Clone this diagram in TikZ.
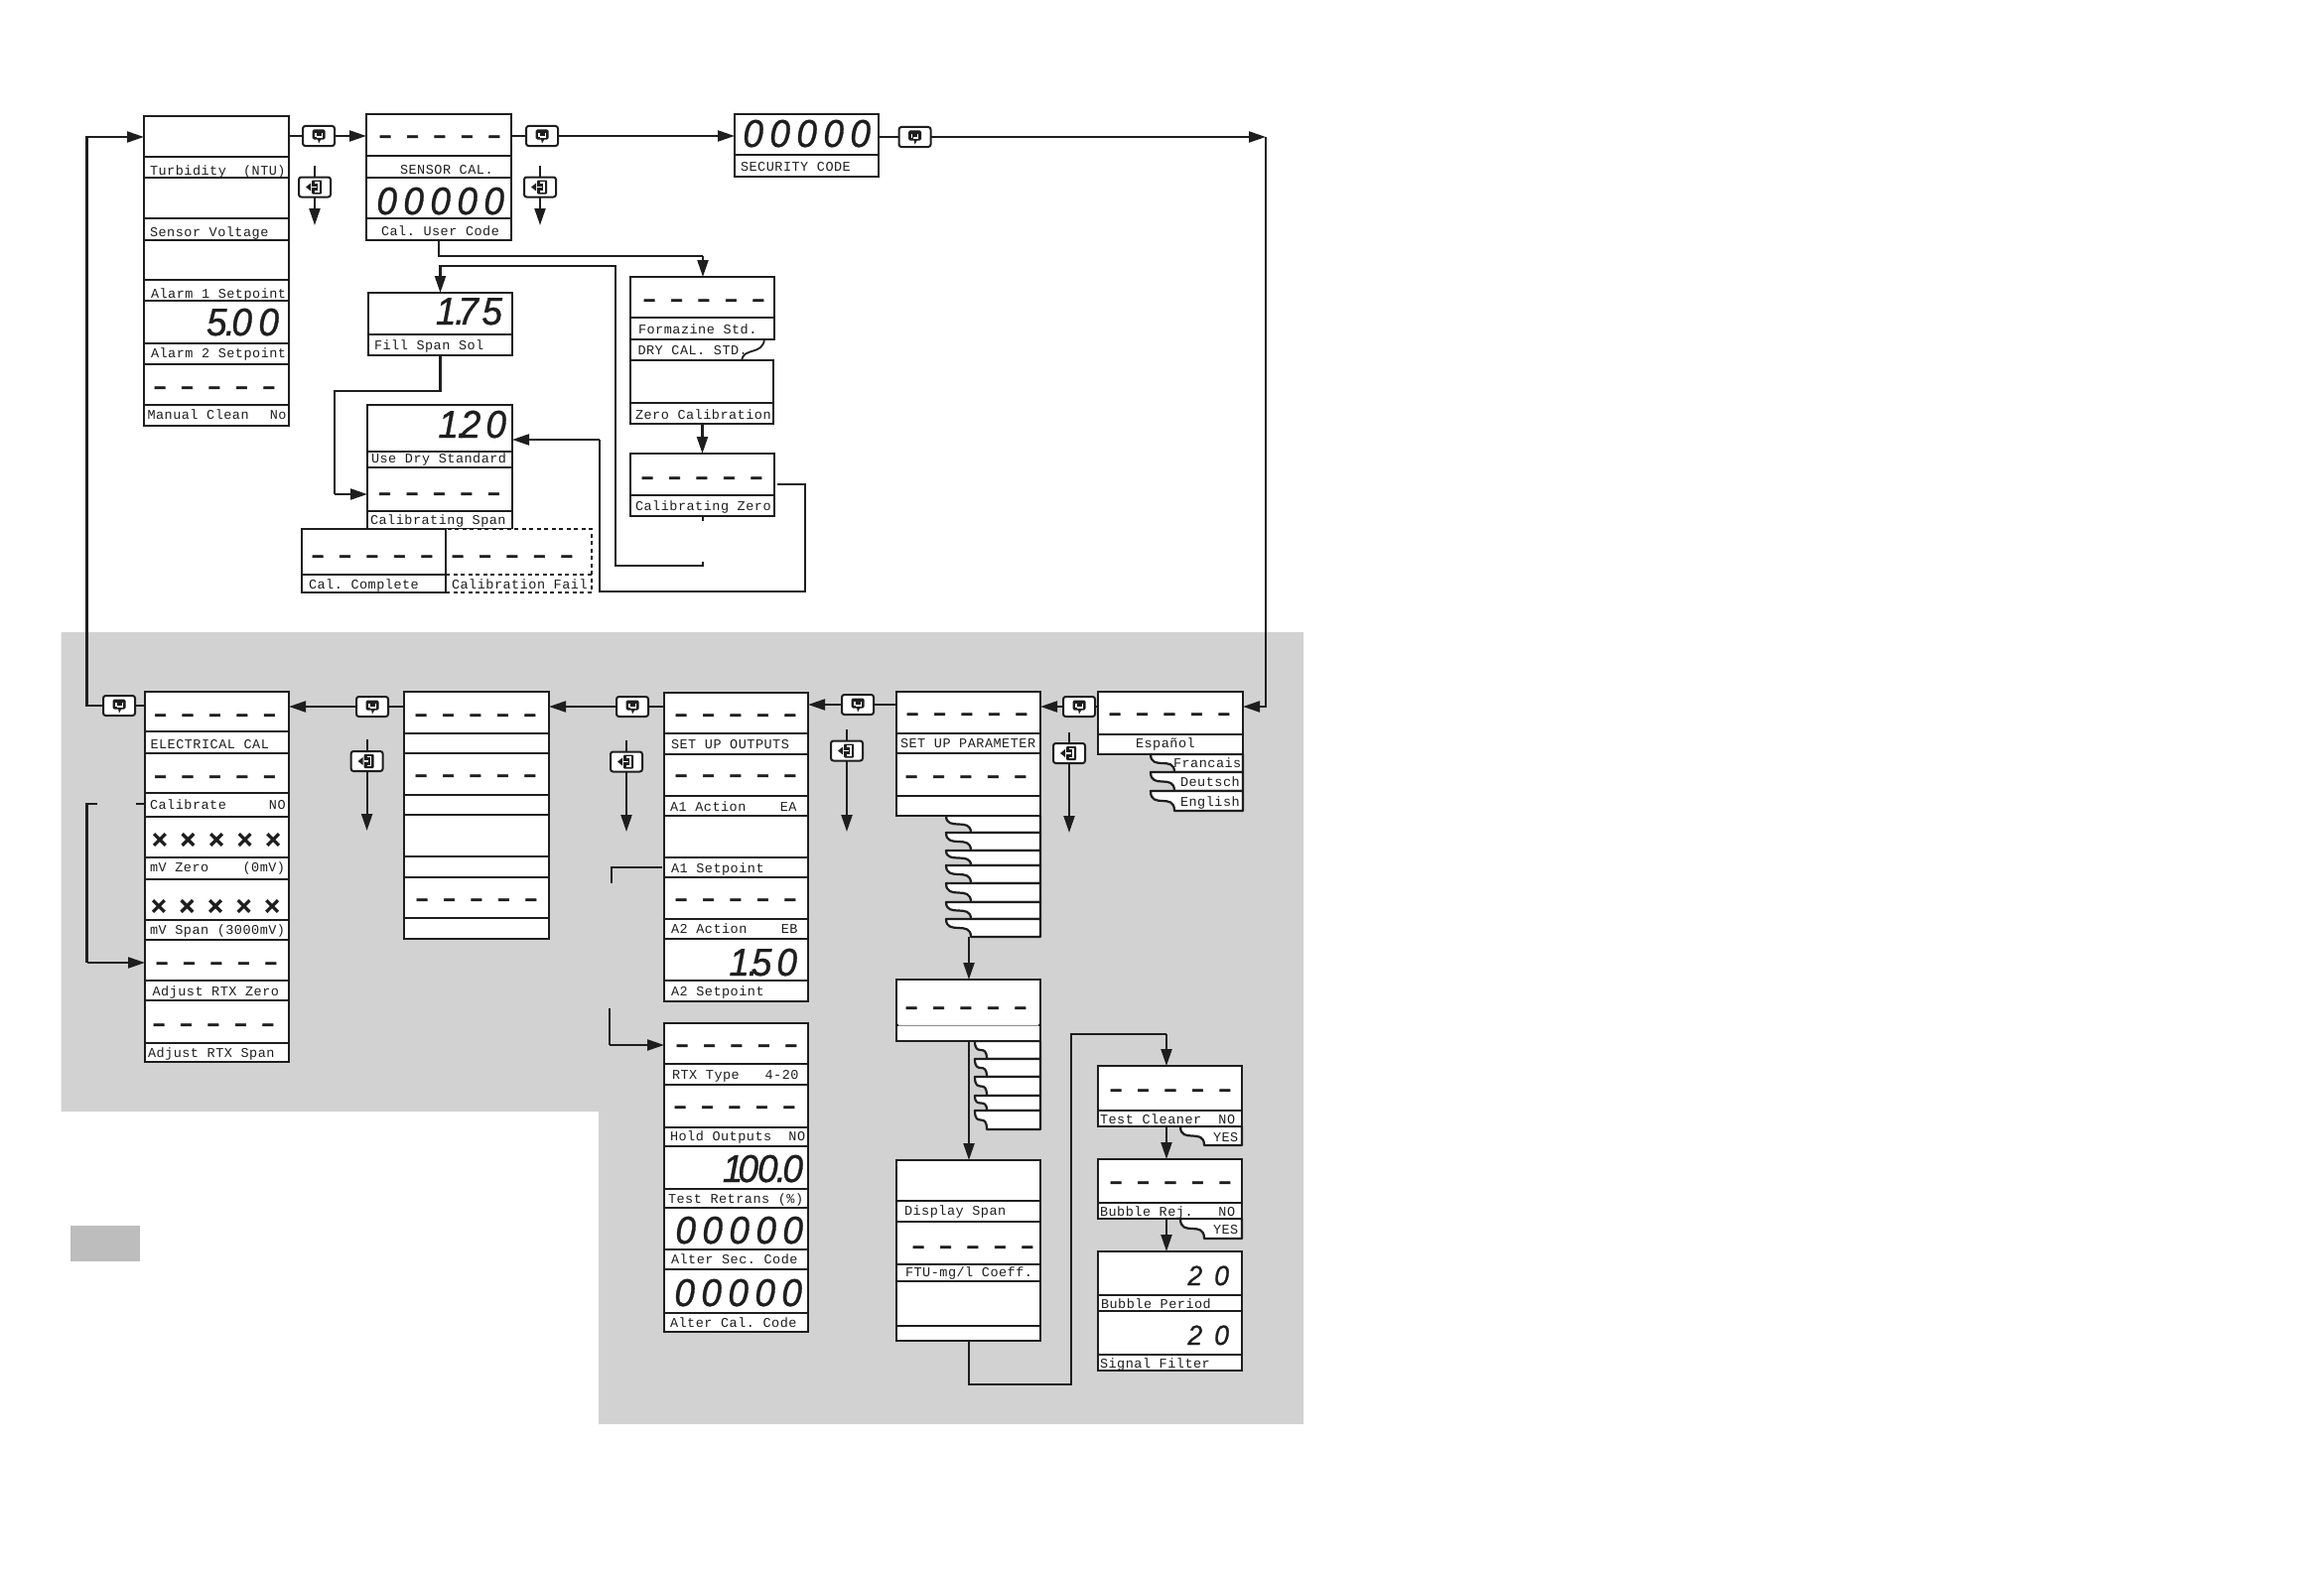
\documentclass[tikz,border=0pt]{standalone}
\usepackage{fontspec}
\usetikzlibrary{arrows.meta,calc}
\newfontfamily\lcdf[LetterSpace=3.7]{Liberation Mono}
\newfontfamily\segf[FakeStretch=0.95,FakeBold=0.8]{Liberation Sans}
\newfontfamily\dashf[FakeBold=3]{Liberation Sans}
\newfontfamily\crossf[FakeBold=0.8]{Liberation Sans}
\definecolor{ink}{HTML}{1E1E1E}
\definecolor{bandgrey}{HTML}{D2D2D2}
\definecolor{legendgrey}{HTML}{BDBDBD}
\tikzset{
  panelbox/.style={draw=ink,fill=white,line width=2.8pt,inner sep=0pt,outer sep=0pt},
  divl/.style={draw=ink,line width=1.2pt},
  lbl/.style={inner sep=0pt,outer sep=0pt,text=ink,font=\lcdf\fontsize{13.5}{14}\selectfont,anchor=base west},
  conn/.style={draw=ink,line width=2.2pt},
  arr/.style={conn,-{Triangle[length=17pt,width=11pt]}},
  keybox/.style={draw=ink,fill=white,line width=2pt,rounded corners=2.5pt,minimum width=32pt,minimum height=20pt,inner sep=0pt,outer sep=0pt},
  segn/.style={inner sep=0pt,outer sep=0pt,text=ink,anchor=base east},
  dashn/.style={inner sep=0pt,outer sep=0pt,text=ink,anchor=base},
  tabp/.style={draw=ink,fill=white,line width=2.2pt,line join=round},
  dottedbox/.style={dash pattern=on 4pt off 3.5pt},
}
% [opts]{name}{x1}{x2}{top}{div}{bot}
\newcommand\panel[7][]{%
  \pgfmathsetmacro\pw{#4-#3}\pgfmathsetmacro\ph{#7-#5}%
  \node[panelbox,#1,minimum width=\pw pt,minimum height=\ph pt,anchor=north west] (#2) at (#3,#5) {};
  \draw[divl,#1] (#3,#6) -- (#4,#6);
}
% {name}{x}{base}{text}
\newcommand\lab[4]{\node[lbl] (#1) at (#2,#3) {#4};}
% {name}{cx}{cy}
\newcommand\dashrow[3]{%
  \pgfmathsetmacro\by{#3+6.4}%
  \node[dashn,font=\dashf\bfseries\fontsize{21}{21}\selectfont] (#1) at (#2,\by)
   {–\hspace{15.8pt}–\hspace{15.8pt}–\hspace{15.8pt}–\hspace{15.8pt}–};
}
\newcommand\xrow[3]{%
  \pgfmathsetmacro\by{#3+9}%
  \node[dashn,font=\crossf\bfseries\fontsize{27}{27}\selectfont] (#1) at (#2,\by)
   {×\hspace{12.8pt}×\hspace{12.8pt}×\hspace{12.8pt}×\hspace{12.8pt}×};
}
% {name}{xright}{base}{size}{text}
\newcommand\seg[5]{\node[segn,font=\segf\itshape\fontsize{#4}{#4}\selectfont] (#1) at (#2,#3) {#5};}
\newcommand\gp{\hspace{6.4pt}}
\newcommand\zeros{0\gp0\gp0\gp0\gp0}
% return key {name}{cx}{cy}
\newcommand\retkey[3]{%
  \node[keybox] (#1) at (#2,#3) {};
  \fill[ink,rounded corners=1.5pt] ($(#1)+(-6.5,-6.5)$) rectangle ($(#1)+(6.5,3.5)$);
  \fill[ink] ($(#1)+(-1,3)$) -- ($(#1)+(2.5,3)$) -- ($(#1)+(0,7.5)$) -- cycle;
  \draw[white,line width=1.4pt] ($(#1)+(3.2,-3)$) -- ($(#1)+(3.2,0.8)$) -- ($(#1)+(-2,0.8)$);
  \draw[white,line width=1.4pt] ($(#1)+(-3.2,-3)$) -- ($(#1)+(-3.2,0.8)$);
}
% exit key {name}{cx}{cy}
\newcommand\exitkey[3]{%
  \node[keybox] (#1) at (#2,#3) {};
  \fill[ink,rounded corners=1pt] ($(#1)+(-3,-7)$) rectangle ($(#1)+(7,7)$);
  \fill[ink] ($(#1)+(-9,0)$) -- ($(#1)+(-4,-4)$) -- ($(#1)+(-4,4)$) -- cycle;
  \draw[white,line width=1.6pt] ($(#1)+(0,-4.5)$) -- ($(#1)+(3.8,-4.5)$) -- ($(#1)+(3.8,4.5)$) -- ($(#1)+(0,4.5)$);
  \draw[white,line width=1.3pt] ($(#1)+(-3,0)$) -- ($(#1)+(1.5,0)$);
}
% {xl}{xc}{xr}{top}{bot}
\newcommand\tabshape[5]{%
  \pgfmathsetmacro\hh{#5-#4}%
  \filldraw[tabp] (#1,#4) .. controls ($(#1,#4)+(0,0.95*\hh)$) and ($(#2,#4)+(0,0.05*\hh)$) .. (#2,#5) -- (#3,#5) -- (#3,#4) -- cycle;
}
% exit connector {keyname}{x}{ytop}{ytip}
\newcommand\exitline[4]{%
  \coordinate (#1t) at (#2,#3); \coordinate (#1b) at (#2,#4);
  \draw[conn] (#1t) -- (#1.north);
  \draw[arr] (#1.south) -- (#1b);
}
\begin{document}
\begin{tikzpicture}[x=1pt,y=-1pt]
\useasboundingbox (0,0) rectangle (2341,1584);
\fill[white] (0,0) rectangle (2341,1584);
\fill[bandgrey] (61.5,637) -- (1313,637) -- (1313,1435) -- (603,1435) -- (603,1120) -- (61.5,1120) -- cycle;
\fill[legendgrey] (71,1235) rectangle (141,1271);

% ---- top-left column
\panel{pTurb}{145}{291}{117}{158}{179}
\panel{pVolt}{145}{291}{179}{220}{242}
\panel{pAlA}{145}{291}{242}{282}{303}
\panel{pAlB}{145}{291}{303}{346}{367}
\panel{pClean}{145}{291}{367}{408}{429}
\lab{lTurb}{151}{176}{Turbidity~~(NTU)}
\lab{lVolt}{151}{238}{Sensor~Voltage}
\lab{lAlA}{152}{300.5}{Alarm~1~Setpoint}
\lab{lAlB}{152}{360.5}{Alarm~2~Setpoint}
\lab{lClean}{148.5}{422}{Manual~Clean~~\hspace{4pt}No}
\seg{dAlB}{281}{338}{39}{5\kern-2pt.\kern-3.5pt0\gp0}
\dashrow{dClean}{216}{390}

% ---- sensor cal
\panel{pSens}{369}{515}{115}{157}{179}
\panel{pCalc}{369}{515}{179}{220}{242}
\lab{lSens}{403}{175}{SENSOR~CAL.}
\lab{lCalc}{384}{237}{Cal.~User~Code}
\dashrow{dSens}{443}{137}
\seg{dCalc}{508}{216}{39}{\zeros}

% ---- security
\panel{pSec}{740}{885}{115}{156}{178}
\lab{lSec}{746}{172}{SECURITY~CODE}
\seg{dSec}{877}{148}{39}{\zeros}

% ---- fill span
\panel{pFill}{371}{516}{295}{337}{358}
\lab{lFill}{377}{352}{Fill~Span~Sol}
\seg{dFill}{506}{327}{39}{1\kern-1.5pt.\kern-7pt7\hspace{3.5pt}5}

% ---- use dry / calibrating span / complete
\panel{pDry}{370}{516}{408}{455}{471}
\panel{pSpan}{370}{516}{471}{515}{533}
\lab{lDry}{374}{466}{Use~Dry~Standard}
\lab{lSpan}{373}{528}{Calibrating~Span}
\seg{dDry}{510}{441}{39}{1\kern-1.5pt.\kern-7pt2\hspace{5pt}0}
\dashrow{dSpan}{442.5}{497}
\panel[dottedbox]{pFail}{449}{596}{533}{579}{597}
\panel{pComp}{304}{449}{533}{579}{597}
\lab{lComp}{311}{593}{Cal.~Complete}
\lab{lFail}{455}{593}{Calibration~Fail}
\dashrow{dComp}{375}{560}
\dashrow{dFail}{516}{560}

% ---- formazine / zero
\fill[white] (635,342) -- (770,342) .. controls (768,358) and (749,350) .. (747,363) -- (635,363) -- cycle;
\draw[conn,line width=2.8pt] (635,342) -- (635,363);
\draw[conn,line width=1.8pt] (770,342) .. controls (768,358) and (749,350) .. (747,363);
\panel{pForm}{635}{780}{279}{320}{342}
\panel{pZero}{635}{779}{363}{406}{427}
\panel{pCZero}{635}{780}{457}{499}{520}
\lab{lForm}{643}{336}{Formazine~Std.}
\lab{lDryStd}{642.5}{357}{DRY~CAL.~STD.}
\lab{lZero}{640}{422}{Zero~Calibration}
\lab{lCZero}{640}{514}{Calibrating~Zero}
\dashrow{dForm}{709}{302}
\dashrow{dCZero}{707}{481}

% ---- electrical column
\panel{pElec}{146}{291}{697}{737}{759}
\panel{pCalib}{146}{291}{759}{799}{823}
\panel{pMvZ}{146}{291}{823}{864}{886}
\panel{pMvS}{146}{291}{886}{927}{947}
\panel{pAdjZ}{146}{291}{947}{988}{1008}
\panel{pAdjS}{146}{291}{1008}{1051}{1070}
\lab{lElec}{151.5}{754}{ELECTRICAL~CAL}
\lab{lCalib}{151}{815}{Calibrate~~~~~NO}
\lab{lMvZ}{151}{878}{mV~Zero~~~~(0mV)}
\lab{lMvS}{151}{941}{mV~Span~(3000mV)}
\lab{lAdjZ}{153.5}{1003}{Adjust~RTX~Zero}
\lab{lAdjS}{149}{1065}{Adjust~RTX~Span}
\dashrow{dElec}{216.5}{720}
\dashrow{dCalib}{216.5}{782}
\xrow{dMvZ}{218}{846}
\xrow{dMvS}{217}{913}
\dashrow{dAdjZ}{218}{970}
\dashrow{dAdjS}{215}{1032}

% ---- unnamed column
\panel{pUa}{407}{553}{697}{739}{759}
\panel{pUb}{407}{553}{759}{801}{821}
\panel{pUc}{407}{553}{821}{863}{884}
\panel{pUd}{407}{553}{884}{925}{946}
\dashrow{dUa}{479}{720}
\dashrow{dUb}{479}{781}
\dashrow{dUd}{480}{906}

% ---- outputs column
\panel{pOut}{669}{814}{698}{739}{760}
\panel{pAact}{669}{814}{760}{802}{822}
\panel{pAset}{669}{814}{822}{864}{884}
\panel{pBact}{669}{814}{884}{926}{946}
\panel{pBset}{669}{814}{946}{988}{1009}
\lab{lOut}{676}{754}{SET~UP~OUTPUTS}
\lab{lAact}{675}{817}{A1~Action~~~~EA}
\lab{lAset}{676}{879}{A1~Setpoint}
\lab{lBact}{676}{940}{A2~Action~~~~EB}
\lab{lBset}{676}{1003}{A2~Setpoint}
\dashrow{dOut}{741}{720}
\dashrow{dAact}{741}{781}
\dashrow{dBact}{741}{906}
\seg{dBset}{803}{983}{39}{1\kern-1.5pt.\kern-7pt5\hspace{5pt}0}

% ---- RTX column
\panel{pRtx}{669}{814}{1031}{1072}{1093}
\panel{pHold}{669}{814}{1093}{1136}{1155}
\panel{pTest}{669}{814}{1155}{1198}{1217}
\panel{pSecC}{669}{814}{1217}{1259}{1279}
\panel{pCalC}{669}{814}{1279}{1323}{1342}
\lab{lRtx}{677}{1087}{RTX~Type~~~4-20}
\lab{lHold}{675}{1149}{Hold~Outputs~~NO}
\lab{lTest}{673}{1212}{Test~Retrans~(\%)}
\lab{lSecC}{676}{1273}{Alter~Sec.~Code}
\lab{lCalC}{675}{1337}{Alter~Cal.~Code}
\dashrow{dRtx}{742}{1053}
\dashrow{dHold}{740}{1115}
\seg{dTest}{809}{1191}{39}{1\kern-5pt0\kern-1pt0\kern-2pt.\kern-3.5pt0}
\seg{dSecC}{809}{1253}{39}{\zeros}
\seg{dCalC}{808}{1316}{39}{\zeros}

% ---- parameter column and tabs
\tabshape{953}{978}{1048}{822}{839}
\tabshape{953}{978}{1048}{839}{857}
\tabshape{953}{978}{1048}{857}{872}
\tabshape{953}{978}{1048}{872}{890}
\tabshape{953}{978}{1048}{890}{909}
\tabshape{953}{978}{1048}{909}{926}
\tabshape{953}{978}{1048}{926}{944}
\panel{pParA}{903}{1048}{697}{739}{759}
\panel{pParB}{903}{1048}{759}{802}{822}
\lab{lParA}{907}{753}{SET~UP~PARAMETER}
\dashrow{dParA}{974}{719}
\dashrow{dParB}{973}{782}
\tabshape{982}{994}{1048}{1049}{1067}
\tabshape{982}{994}{1048}{1067}{1085}
\tabshape{982}{994}{1048}{1085}{1104}
\tabshape{982}{994}{1048}{1104}{1119}
\tabshape{982}{994}{1048}{1119}{1138}
\panel{pMid}{903}{1048}{987}{1033}{1049}
\draw[white,line width=1.4pt] (905,1033) -- (1046,1033);
\draw[black!45,line width=1pt] (905,1033) -- (1046,1033);
\dashrow{dMid}{973}{1015}
\panel{pDisp}{903}{1048}{1169}{1210}{1231}
\panel{pFtu}{903}{1048}{1231}{1274}{1291}
\panel{pBlank}{903}{1048}{1291}{1336}{1351}
\lab{lDisp}{911}{1224}{Display~Span}
\lab{lFtu}{912}{1286}{FTU-mg/l~Coeff.}
\dashrow{dFtu}{980}{1256}

% ---- language column
\tabshape{1159}{1183}{1252}{760}{778}
\tabshape{1159}{1183}{1252}{778}{797}
\tabshape{1159}{1183}{1252}{797}{817}
\panel{pEsp}{1106}{1252}{697}{740}{760}
\lab{lEsp}{1144}{753}{Español}
\lab{lFra}{1182}{773}{Francais}
\lab{lDeu}{1189}{792}{Deutsch}
\lab{lEng}{1189}{812}{English}
\dashrow{dEsp}{1178}{719}

% ---- cleaner column
\tabshape{1189}{1213}{1251}{1135}{1154}
\tabshape{1189}{1213}{1251}{1228}{1248}
\panel{pClr}{1106}{1251}{1074}{1119}{1135}
\panel{pBub}{1106}{1251}{1168}{1212}{1228}
\panel{pPer}{1106}{1251}{1261}{1305}{1321}
\panel{pSig}{1106}{1251}{1321}{1365}{1381}
\lab{lClr}{1108}{1132}{Test~Cleaner~~NO}
\lab{lClrY}{1222}{1150}{YES}
\lab{lBub}{1108}{1225}{Bubble~Rej.~~~NO}
\lab{lBubY}{1222}{1243}{YES}
\lab{lPer}{1109}{1318}{Bubble~Period}
\lab{lSig}{1108}{1378}{Signal~Filter}
\dashrow{dClr}{1179}{1098}
\dashrow{dBub}{1179}{1191}
\seg{dPer}{1238}{1295}{28}{2\hspace{12pt}0}
\seg{dSig}{1238}{1355}{28}{2\hspace{12pt}0}

% ---- keys
\retkey{kA}{321}{137}
\retkey{kB}{546}{137}
\retkey{kC}{921.5}{138}
\retkey{kD}{1087}{712}
\retkey{kE}{864}{710}
\retkey{kF}{637}{712}
\retkey{kG}{375}{712}
\retkey{kH}{120}{711}
\exitkey{eA}{317}{188.5}
\exitkey{eB}{544}{188.5}
\exitkey{eC}{369.6}{767}
\exitkey{eD}{631}{767.5}
\exitkey{eE}{853}{756.5}
\exitkey{eF}{1077}{759}
\exitline{eA}{317}{167}{227}
\exitline{eB}{544}{167}{227}
\exitline{eC}{369.6}{745}{837}
\exitline{eD}{631}{746}{838}
\exitline{eE}{853}{735}{838}
\exitline{eF}{1077}{738}{839}

% ---- top row connectors
\draw[conn] (pTurb.east |- kA.west) -- (kA.west);
\draw[arr] (kA.east) -- (kA.east -| pSens.west);
\draw[conn] (pSens.east |- kB.west) -- (kB.west);
\draw[arr] (kB.east) -- (kB.east -| pSec.west);
\draw[conn] (pSec.east |- kC.west) -- (kC.west);
\coordinate (cornerR) at (1275,138);
\draw[arr] (kC.east) -- (cornerR);
\draw[arr] (cornerR) |- (kD.east -| pEsp.east);
% ---- sensor branches
\coordinate (bendA) at (708,258);
\draw[conn] (pCalc.south) |- (bendA);
\draw[arr] (bendA) -- (pForm.north -| bendA);
\coordinate (bendB) at (620,268);
\coordinate (bendC) at (620,570);
\coordinate (stubEnd) at (708,566);
\draw[arr] (stubEnd) |- (bendC) -- (bendB) -| (pFill.north);
\coordinate (stubTop) at (708,525);
\draw[conn] (pCZero.south -| stubTop) -- (stubTop);
\draw[arr] (pZero.south -| pCZero.north) -- (pCZero.north);
\coordinate (fillA) at (443.5,394);
\coordinate (fillB) at (337,394);
\coordinate (fillC) at (337,498);
\draw[conn] (pFill.south) -- (fillA) -- (fillB) -- (fillC);
\draw[arr] (fillC) -- (fillC -| pSpan.west);
\coordinate (backA) at (783,488);
\coordinate (backB) at (811,488);
\coordinate (backC) at (811,596);
\coordinate (backD) at (604,596);
\coordinate (backE) at (604,443);
\draw[conn] (backA) -- (backB) -- (backC) -- (backD) -- (backE);
\draw[arr] (backE) -- (backE -| pDry.east);

% ---- grey band connectors
\draw[conn] (pEsp.west |- kD.east) -- (kD.east);
\draw[arr] (kD.west) -- (kD.west -| pParA.east);
\draw[conn] (pParA.west |- kE.east) -- (kE.east);
\draw[arr] (kE.west) -- (kE.west -| pOut.east);
\draw[conn] (pOut.west |- kF.east) -- (kF.east);
\draw[arr] (kF.west) -- (kF.west -| pUa.east);
\draw[conn] (pUa.west |- kG.east) -- (kG.east);
\draw[arr] (kG.west) -- (kG.west -| pElec.east);
\draw[conn] (pElec.west |- kH.east) -- (kH.east);
\coordinate (loopTop) at (87.5,138);
\draw[arr] (kH.west) -| (loopTop) -- (loopTop -| pTurb.west);
% bracket beside Calibrate
\coordinate (brA) at (137,810);
\coordinate (brB) at (97.5,810);
\coordinate (brC) at (87.5,810);
\coordinate (brD) at (87.5,970);
\draw[conn] (brA -| pCalib.west) -- (brA);
\draw[conn] (brB) -- (brC) -- (brD);
\draw[arr] (brD) -- (brD -| pAdjZ.west);
% A1 Setpoint stubs
\coordinate (stA) at (667,874);
\coordinate (stB) at (616,874);
\coordinate (stC) at (616,890);
\draw[conn] (stA) -- (stB) -- (stC);
\coordinate (stD) at (614,1016);
\coordinate (stE) at (614,1053);
\draw[conn] (stD) -- (stE);
\draw[arr] (stE) -- (stE -| pRtx.west);
% parameter downward
\coordinate (pdA) at (976,944);
\draw[arr] (pdA) -- (pMid.north -| pdA);
\coordinate (pdB) at (976,1049);
\draw[arr] (pdB) -- (pDisp.north -| pdB);
\coordinate (loA) at (976,1395);
\coordinate (loB) at (1079,1395);
\coordinate (loC) at (1079,1042);
\coordinate (loD) at (1175,1042);
\draw[conn] (pBlank.south -| loA) -- (loA) -- (loB) -- (loC) -- (loD);
\draw[arr] (loD) -- (pClr.north -| loD);
\draw[arr] (pClr.south -| loD) -- (pBub.north -| loD);
\draw[arr] (pBub.south -| loD) -- (pPer.north -| loD);
\end{tikzpicture}
\end{document}
